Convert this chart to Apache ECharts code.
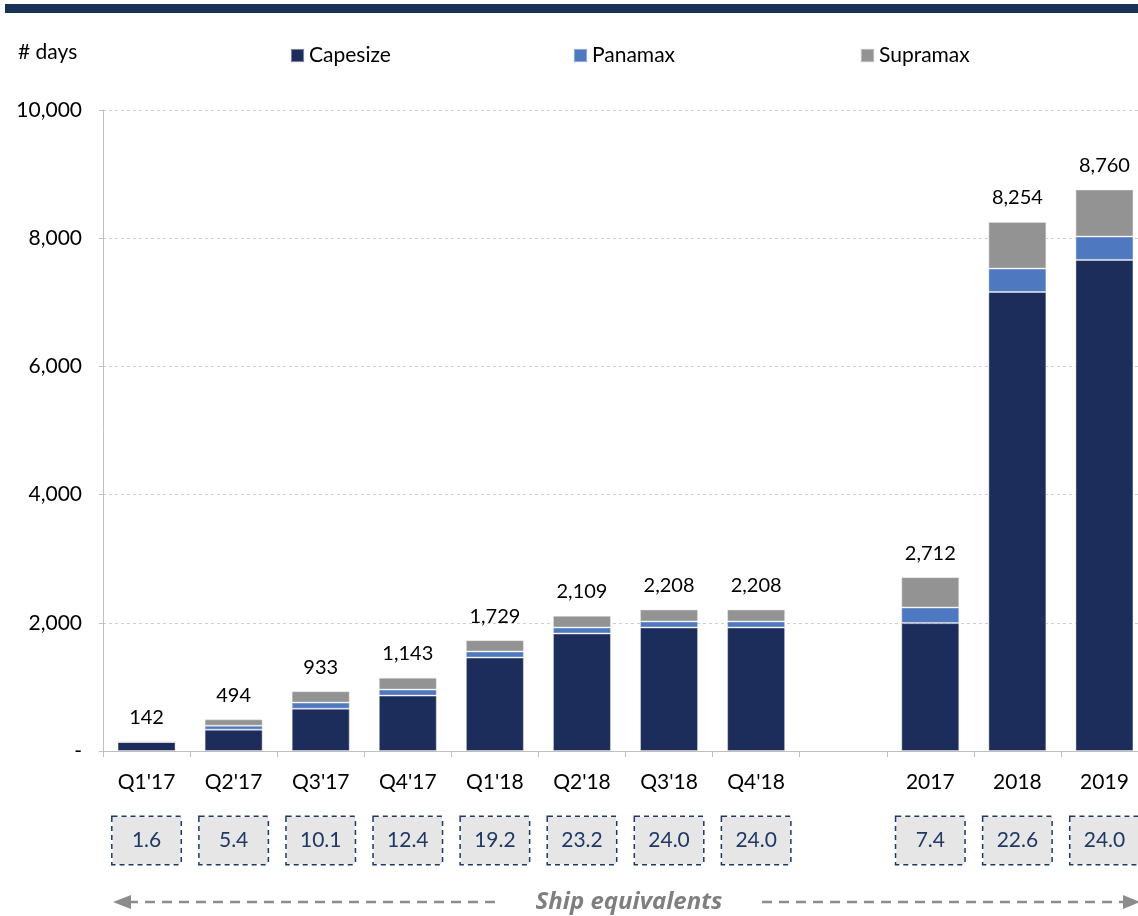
<!DOCTYPE html>
<html>
<head>
<meta charset="utf-8">
<script src="https://cdn.jsdelivr.net/npm/echarts@6/dist/echarts.min.js"></script>
<style>
  html, body { margin: 0; padding: 0; background: #fff; overflow: hidden; width: 1138px; height: 916px; }
  #chart { width: 1149px; height: 916px; }
</style>
</head>
<body>
<div id="chart"></div>
<script>
const categories = ["Q1'17", "Q2'17", "Q3'17", "Q4'17", "Q1'18", "Q2'18", "Q3'18", "Q4'18", "", "2017", "2018", "2019"];
const capesize = [142, 333, 661, 864, 1458, 1833, 1927, 1927, null, 1995, 7161, 7661];
const panamax  = [0, 62, 94, 94, 94, 94, 94, 94, null, 244, 365, 365];
const supramax = [0, 99, 178, 185, 177, 182, 187, 187, null, 473, 728, 734];
const totals   = [142, 494, 933, 1143, 1729, 2109, 2208, 2208, null, 2712, 8254, 8760];
const shipEquivalents = ["1.6", "5.4", "10.1", "12.4", "19.2", "23.2", "24.0", "24.0", "", "7.4", "22.6", "24.0"];
const yMin = 0, yMax = 10000, yStep = 2000;

const FONT = 'Lato';
const fmt = v => v === 0 ? '-' : v.toLocaleString('en-US');

const chart = echarts.init(document.getElementById('chart'), null, { renderer: 'canvas' });

const barBorder = { borderColor: 'rgba(235,235,235,0.45)', borderWidth: 1 };

const legendBase = {
  top: 45, padding: 0, itemWidth: 13, itemHeight: 13, icon: 'rect',
  textStyle: { fontFamily: FONT, fontSize: 21, color: '#000' }, selectedMode: false
};

const option = {
  animation: false,
  textStyle: { fontFamily: FONT },
  legend: [
    Object.assign({}, legendBase, { left: 290, data: ['Capesize'] }),
    Object.assign({}, legendBase, { left: 573, data: ['Panamax'] }),
    Object.assign({}, legendBase, { left: 860, data: ['Supramax'] })
  ],
  grid: { left: 103, right: 1, top: 110, height: 641, containLabel: false },
  xAxis: [
    {
      type: 'category', data: categories,
      axisLine: { lineStyle: { color: '#bfbfbf', width: 1 } },
      axisTick: { show: true, length: 6, lineStyle: { color: '#bfbfbf' } },
      axisLabel: { interval: 0, margin: 21, color: '#000', fontSize: 21, fontFamily: FONT }
    },
    {
      type: 'category', data: shipEquivalents, position: 'bottom',
      axisLine: { show: false }, axisTick: { show: false },
      axisLabel: {
        interval: 0, margin: 66,
        formatter: v => v === '' ? '' : '{b|' + v + '}',
        rich: {
          b: {
            fontFamily: FONT, fontSize: 21, color: '#1f3864',
            backgroundColor: '#e7e6e6', borderColor: '#1f3864', borderWidth: 1.5,
            borderType: [5, 4], width: 68, height: 47, lineHeight: 47, align: 'center', padding: 0
          }
        }
      }
    }
  ],
  yAxis: {
    type: 'value', min: yMin, max: yMax, interval: yStep,
    axisLine: { show: true, lineStyle: { color: '#bfbfbf' } },
    axisTick: { show: true, length: 4, lineStyle: { color: '#bfbfbf' } },
    splitLine: { lineStyle: { color: '#cfcfcf', type: [3, 3], width: 1 } },
    axisLabel: { formatter: fmt, margin: 21, color: '#000', fontSize: 21, fontFamily: FONT }
  },
  series: [
    { name: 'Capesize', type: 'bar', stack: 'a', barWidth: 58, data: capesize,
      itemStyle: Object.assign({ color: '#1c2d5b' }, barBorder) },
    { name: 'Panamax', type: 'bar', stack: 'a', barWidth: 58, data: panamax,
      itemStyle: Object.assign({ color: '#4e78c0' }, barBorder) },
    { name: 'Supramax', type: 'bar', stack: 'a', barWidth: 58, data: supramax,
      itemStyle: Object.assign({ color: '#939393' }, barBorder) },
    { name: 'Total', type: 'bar', stack: 'a', barWidth: 58,
      data: totals.map(t => t === null ? null : 0),
      itemStyle: { color: 'transparent', borderWidth: 0 },
      label: {
        show: true, position: 'top', distance: 14, color: '#000', fontSize: 20, fontFamily: FONT,
        formatter: p => totals[p.dataIndex] === null ? '' : totals[p.dataIndex].toLocaleString('en-US')
      }
    }
  ],
  graphic: [
    { type: 'rect', shape: { x: 5, y: 4, width: 1144, height: 9 }, style: { fill: '#1a3256' } },
    { type: 'text', left: 18, top: 42, style: { text: '# days', font: '21px ' + FONT, fill: '#000' } },
    { type: 'line', shape: { x1: 128, y1: 902, x2: 498, y2: 902 },
      style: { stroke: '#8c8c8c', lineWidth: 2.7, lineDash: [10, 7] } },
    { type: 'polygon', shape: { points: [[113, 902], [131, 895], [131, 909]] }, style: { fill: '#8c8c8c' } },
    { type: 'line', shape: { x1: 762, y1: 902, x2: 1124, y2: 902 },
      style: { stroke: '#8c8c8c', lineWidth: 2.7, lineDash: [10, 7] } },
    { type: 'polygon', shape: { points: [[1140, 902], [1123, 895], [1123, 909]] }, style: { fill: '#8c8c8c' } },
    { type: 'text', x: 629, y: 902,
      style: { text: 'Ship equivalents', font: 'italic bold 24px "Open Sans"', fill: '#7f7f7f',
               textAlign: 'center', textVerticalAlign: 'middle' } }
  ]
};
chart.setOption(option);
</script>
</body>
</html>
